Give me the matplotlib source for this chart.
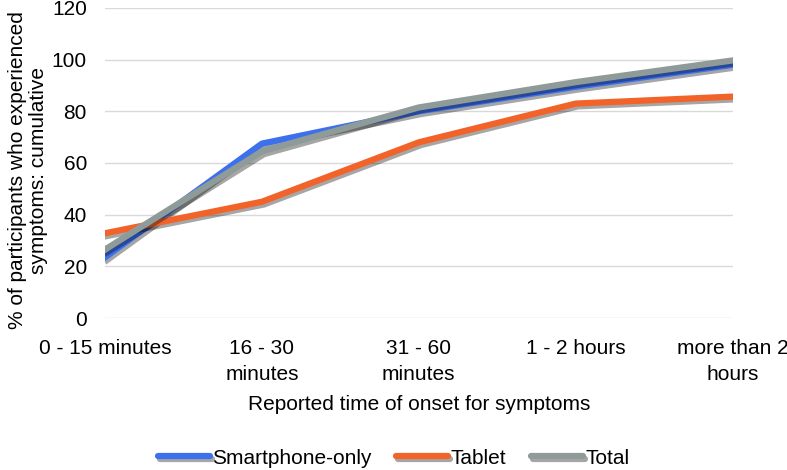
import matplotlib.pyplot as plt
import matplotlib.patheffects as pe

plt.rcParams['font.family'] = ['Liberation Sans', 'DejaVu Sans']

categories = ["0 - 15 minutes", "16 - 30\nminutes", "31 - 60\nminutes",
              "1 - 2 hours", "more than 2\nhours"]
smartphone = [23.5, 67.5, 80, 89.5, 98]
tablet = [32.8, 45, 68, 83, 85.7]
total = [26.5, 64.5, 81.5, 91.3, 99.7]

series = [("Smartphone-only", smartphone, "#3d70ec"),
          ("Tablet", tablet, "#f2632a"),
          ("Total", total, "#8f9b98")]

fig = plt.figure(figsize=(7.87, 4.70), dpi=100)
ax = fig.add_axes([0.1334, 0.3234, 0.7975, 0.6596])

fs = 15
x = list(range(len(categories)))
# soft drop shadow under each line, like the Excel effect
shadow = [pe.SimpleLineShadow(offset=(1.5, -2), shadow_color="k", alpha=0.35),
          pe.Normal()]
for name, vals, col in series:
    ax.plot(x, vals, color=col, lw=4.5, label=name, solid_joinstyle="round",
            path_effects=shadow)

# axes and grid
ax.set_xlim(0, 4)
ax.set_ylim(0, 120)
ax.set_yticks(range(0, 121, 20))
ax.set_xticks(x)
ax.set_xticklabels(categories, fontsize=fs, linespacing=1.45, va="top")
ax.tick_params(axis="y", labelsize=fs, length=0, pad=13)
ax.tick_params(axis="x", length=0, pad=15)
ax.grid(axis="y", color="#d9d9d9", lw=1)
ax.set_axisbelow(True)
for s in ax.spines.values():
    s.set_visible(False)

ax.set_xlabel("Reported time of onset for symptoms", fontsize=fs, labelpad=8)
fig.text(0.036, 0.638, "% of participants who experienced\nsymptoms: cumulative",
         fontsize=fs, rotation=90, ha="center", va="center", linespacing=1.15)

leg = fig.legend(loc="lower center", bbox_to_anchor=(0.5, -0.035), ncol=3,
                 frameon=False, fontsize=fs, handlelength=2.5,
                 columnspacing=1.2, handletextpad=0.1)
for h in leg.get_lines():
    h.set_linewidth(4.5)
    h.set_solid_capstyle("round")

fig.savefig("out.png", dpi=100)
